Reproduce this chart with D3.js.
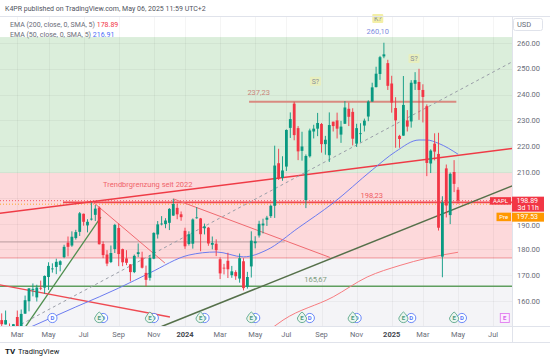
<!DOCTYPE html>
<html>
<head>
<meta charset="utf-8">
<title>AAPL weekly</title>
<script src="https://d3js.org/d3.v7.min.js"></script>
<style>
    body { margin: 0; background: #fff; }
    svg { display: block; font-family: Roboto, "DejaVu Sans", sans-serif; }
</style>
</head>
<body>
<div id="chart"></div>
<script>
// weekly candles: week start, open, high, low, close
var candles = [
    ["2023-01-30", 143.0, 157.4, 141.3, 154.5],
    ["2023-02-06", 152.6, 155.2, 149.2, 151.0],
    ["2023-02-13", 150.9, 156.3, 150.9, 152.6],
    ["2023-02-20", 150.2, 151.3, 146.7, 146.7],
    ["2023-02-27", 147.7, 151.1, 145.4, 151.0],
    ["2023-03-06", 153.8, 156.3, 147.6, 148.5],
    ["2023-03-13", 147.8, 156.7, 147.6, 155.0],
    ["2023-03-20", 155.1, 162.1, 155.0, 160.3],
    ["2023-03-27", 159.9, 165.0, 156.0, 164.9],
    ["2023-04-03", 164.3, 166.8, 161.8, 164.7],
    ["2023-04-10", 161.4, 166.3, 159.8, 165.2],
    ["2023-04-17", 165.1, 167.9, 164.2, 165.0],
    ["2023-04-24", 165.2, 169.9, 162.8, 169.7],
    ["2023-05-01", 169.3, 175.0, 164.3, 173.6],
    ["2023-05-08", 172.5, 174.6, 171.0, 172.6],
    ["2023-05-15", 173.2, 176.4, 170.4, 175.2],
    ["2023-05-22", 174.0, 175.8, 171.5, 175.4],
    ["2023-05-29", 177.0, 181.8, 176.6, 181.0],
    ["2023-06-05", 182.6, 185.0, 177.3, 181.0],
    ["2023-06-12", 181.5, 187.0, 181.0, 184.9],
    ["2023-06-19", 184.4, 187.6, 183.8, 186.7],
    ["2023-06-26", 186.8, 194.5, 185.2, 194.0],
    ["2023-07-03", 193.8, 193.9, 189.2, 190.7],
    ["2023-07-10", 189.3, 191.7, 186.6, 190.7],
    ["2023-07-17", 191.9, 198.2, 191.2, 191.9],
    ["2023-07-24", 193.4, 197.2, 191.0, 195.8],
    ["2023-07-31", 196.2, 196.7, 181.9, 182.0],
    ["2023-08-07", 182.1, 183.1, 176.6, 177.8],
    ["2023-08-14", 178.0, 179.7, 173.5, 174.5],
    ["2023-08-21", 175.1, 181.5, 174.7, 178.6],
    ["2023-08-28", 180.1, 189.9, 178.6, 189.5],
    ["2023-09-04", 188.3, 190.0, 173.5, 178.2],
    ["2023-09-11", 180.1, 180.3, 173.5, 175.0],
    ["2023-09-18", 176.5, 179.7, 173.9, 174.8],
    ["2023-09-25", 174.2, 174.3, 167.6, 171.2],
    ["2023-10-02", 171.2, 178.0, 170.8, 177.5],
    ["2023-10-09", 178.2, 182.3, 177.0, 178.9],
    ["2023-10-16", 176.8, 179.1, 172.6, 172.9],
    ["2023-10-23", 170.9, 173.7, 165.7, 168.2],
    ["2023-10-30", 169.0, 177.8, 167.9, 176.7],
    ["2023-11-06", 176.4, 186.6, 176.2, 186.4],
    ["2023-11-13", 185.8, 191.0, 184.2, 189.7],
    ["2023-11-20", 189.9, 192.9, 189.3, 190.0],
    ["2023-11-27", 189.8, 192.1, 188.2, 191.2],
    ["2023-12-04", 190.3, 196.0, 187.5, 195.7],
    ["2023-12-11", 193.1, 199.6, 193.0, 197.6],
    ["2023-12-18", 196.1, 197.7, 191.7, 193.6],
    ["2023-12-25", 193.6, 194.7, 191.1, 192.5],
    ["2024-01-01", 187.2, 188.4, 180.2, 181.2],
    ["2024-01-08", 182.1, 187.0, 181.5, 185.9],
    ["2024-01-15", 182.2, 192.0, 180.3, 191.6],
    ["2024-01-22", 192.3, 196.4, 191.9, 192.4],
    ["2024-01-29", 192.0, 192.2, 179.3, 185.9],
    ["2024-02-05", 188.2, 190.0, 185.8, 188.9],
    ["2024-02-12", 188.4, 188.7, 181.4, 182.3],
    ["2024-02-19", 181.8, 185.0, 180.0, 182.5],
    ["2024-02-26", 182.2, 183.9, 177.4, 179.7],
    ["2024-03-04", 176.2, 176.9, 168.5, 170.7],
    ["2024-03-11", 172.9, 174.4, 170.3, 172.6],
    ["2024-03-18", 175.6, 178.7, 168.9, 172.3],
    ["2024-03-25", 170.0, 173.6, 169.0, 171.5],
    ["2024-04-01", 171.2, 171.9, 168.2, 169.6],
    ["2024-04-08", 168.7, 178.4, 167.1, 176.6],
    ["2024-04-15", 175.4, 176.6, 164.1, 165.0],
    ["2024-04-22", 165.5, 171.3, 164.8, 169.3],
    ["2024-04-29", 173.4, 187.0, 169.1, 183.4],
    ["2024-05-06", 182.4, 185.1, 180.4, 183.1],
    ["2024-05-13", 185.4, 191.1, 184.6, 189.9],
    ["2024-05-20", 189.3, 191.9, 186.2, 190.0],
    ["2024-05-27", 191.5, 193.0, 189.1, 192.3],
    ["2024-06-03", 192.9, 197.3, 192.2, 196.9],
    ["2024-06-10", 196.9, 220.2, 192.2, 212.5],
    ["2024-06-17", 213.4, 219.0, 206.9, 207.5],
    ["2024-06-24", 207.7, 216.1, 206.6, 210.6],
    ["2024-07-01", 212.1, 226.5, 210.4, 226.3],
    ["2024-07-08", 227.1, 233.1, 223.2, 230.5],
    ["2024-07-15", 236.5, 237.2, 222.3, 224.3],
    ["2024-07-22", 227.0, 227.8, 214.6, 218.0],
    ["2024-07-29", 218.2, 225.6, 214.4, 219.9],
    ["2024-08-05", 199.1, 216.8, 196.0, 216.2],
    ["2024-08-12", 216.1, 226.8, 215.6, 226.1],
    ["2024-08-19", 225.7, 228.3, 223.0, 226.8],
    ["2024-08-26", 226.8, 232.9, 223.9, 229.0],
    ["2024-09-02", 228.6, 229.0, 217.5, 220.8],
    ["2024-09-09", 220.8, 224.0, 216.7, 222.5],
    ["2024-09-16", 216.5, 233.1, 213.9, 228.2],
    ["2024-09-23", 229.5, 229.5, 225.7, 227.8],
    ["2024-09-30", 230.0, 233.0, 223.0, 226.8],
    ["2024-10-07", 224.5, 229.8, 221.3, 227.6],
    ["2024-10-14", 228.7, 237.5, 228.6, 235.0],
    ["2024-10-21", 234.5, 236.9, 227.8, 231.4],
    ["2024-10-28", 233.3, 234.7, 220.3, 222.9],
    ["2024-11-04", 221.0, 228.7, 219.7, 227.0],
    ["2024-11-11", 225.0, 228.9, 221.5, 225.0],
    ["2024-11-18", 228.0, 230.7, 225.7, 229.9],
    ["2024-11-25", 231.5, 237.8, 229.7, 237.3],
    ["2024-12-02", 237.3, 244.6, 237.2, 242.8],
    ["2024-12-09", 242.9, 250.8, 242.8, 248.1],
    ["2024-12-16", 248.0, 255.0, 245.7, 254.5],
    ["2024-12-23", 254.8, 260.1, 254.1, 255.6],
    ["2024-12-30", 252.2, 253.5, 241.8, 243.4],
    ["2025-01-06", 244.3, 247.3, 233.0, 236.9],
    ["2025-01-13", 234.8, 239.0, 219.4, 230.0],
    ["2025-01-20", 224.0, 224.4, 219.4, 222.8],
    ["2025-01-27", 224.1, 247.2, 224.0, 236.0],
    ["2025-02-03", 230.0, 234.0, 225.7, 227.6],
    ["2025-02-10", 229.6, 245.6, 227.2, 244.6],
    ["2025-02-17", 244.2, 248.7, 241.8, 245.6],
    ["2025-02-24", 244.9, 250.0, 230.2, 241.8],
    ["2025-03-03", 241.8, 244.0, 229.2, 239.1],
    ["2025-03-10", 235.5, 236.2, 208.4, 213.5],
    ["2025-03-17", 213.3, 218.8, 209.6, 218.3],
    ["2025-03-24", 221.0, 225.0, 214.5, 217.9],
    ["2025-03-31", 217.0, 225.2, 187.3, 188.4],
    ["2025-04-07", 177.2, 200.6, 169.2, 198.2],
    ["2025-04-14", 211.4, 212.9, 192.4, 197.0],
    ["2025-04-21", 193.3, 209.8, 189.8, 209.3],
    ["2025-04-28", 210.0, 214.6, 202.2, 205.4],
    ["2025-05-05", 203.1, 204.1, 197.7, 198.9]
];

// moving averages
var ema50 = [
    ["2023-02-27", 147.0], ["2023-04-03", 150.3], ["2023-06-19", 157.7], ["2023-07-31", 161.6],
    ["2023-09-04", 165.0], ["2023-10-30", 170.9], ["2024-01-08", 177.8], ["2024-02-26", 179.0],
    ["2024-04-15", 177.1], ["2024-05-27", 179.8], ["2024-07-22", 188.3], ["2024-09-23", 198.0],
    ["2024-12-02", 210.8], ["2025-01-13", 217.9], ["2025-02-24", 222.4], ["2025-03-10", 222.4],
    ["2025-03-31", 221.1], ["2025-05-05", 216.91]
];
var ema200 = [
    ["2024-05-27", 148.0], ["2024-06-25", 152.6], ["2024-09-23", 161.6], ["2024-11-23", 169.3],
    ["2025-01-21", 173.8], ["2025-03-10", 176.6], ["2025-05-05", 178.89]
];

// zones (top price, bottom price)
var greenZone = [262.3, 209.6];
var pinkZone = [209.6, 176.9];
var greyZone = [176.9, 140];

// horizontal levels: start, end, price
var levels = [
    { from: "2023-01-30", to: "2025-08-25", price: 165.67, kind: "green" },
    { from: "2023-01-30", to: "2024-06-28", price: 182.9, kind: "grey" },
    { from: "2023-05-27", to: "2025-08-25", price: 198.23, kind: "red" },
    { from: "2024-04-25", to: "2025-05-02", price: 237.23, kind: "brown" }
];

// trend lines: [date, price] -> [date, price]
var trends = [
    { a: ["2023-01-30", 193.9], b: ["2025-08-25", 219.5], kind: "redThick" },
    { a: ["2023-03-13", 147.6], b: ["2023-08-03", 192.5], kind: "green" },
    { a: ["2023-11-20", 150.1], b: ["2025-08-25", 205.9], kind: "olive" },
    { a: ["2023-07-19", 198.5], b: ["2023-11-26", 174.7], kind: "redThin" },
    { a: ["2023-12-11", 199.6], b: ["2024-09-17", 176.9], kind: "redThin" },
    { a: ["2023-01-30", 166.4], b: ["2023-12-05", 153.8], kind: "redMid" },
    { a: ["2023-02-22", 148.8], b: ["2025-08-25", 254.4], kind: "dashed" }
];

var earnings = ["2023-07-31", "2023-10-30", "2024-01-29", "2024-04-29", "2024-07-29",
    "2024-10-28", "2025-01-27", "2025-04-28"];
var nextEarnings = "2025-07-28";
var dividends = ["2023-05-08", "2023-08-07", "2023-11-06", "2024-02-05", "2024-05-06",
    "2024-08-12", "2024-11-04", "2025-02-10", "2025-05-12"];

var monthTicks = ["2023-03-01", "2023-05-01", "2023-07-01", "2023-09-01", "2023-11-01",
    "2024-01-01", "2024-03-01", "2024-05-01", "2024-07-01", "2024-09-01", "2024-11-01",
    "2025-01-01", "2025-03-01", "2025-05-01", "2025-07-01"];
var priceTicks = [160, 170, 180, 190, 200, 210, 220, 230, 240, 250, 260];

var lastPrice = 198.89, prePrice = 197.53;

// SETUP
var W = 550, H = 360;
var plotRight = 512, plotTop = 17, plotBottom = 326;
var parse = d3.utcParse("%Y-%m-%d");
var weekPx = 3.9;
var x = d3.scaleUtc()
    .domain([parse("2024-01-01"), parse("2025-01-06")])
    .range([185, 185 + 53 * weekPx]);
var y = d3.scaleLinear().domain([160, 260]).range([301, 43]);

var svg = d3.select("#chart").append("svg").attr("width", W).attr("height", H);

svg.append("clipPath").attr("id", "plot")
    .append("rect").attr("x", 0).attr("y", plotTop).attr("width", plotRight).attr("height", plotBottom - plotTop);

var plot = svg.append("g").attr("clip-path", "url(#plot)");

// zones
function zone(z, fill, stroke) {
    plot.append("rect")
        .attr("x", 0).attr("width", plotRight)
        .attr("y", y(z[0])).attr("height", y(z[1]) - y(z[0]))
        .attr("fill", fill);
    if (stroke) {
        plot.append("line").attr("x1", 0).attr("x2", plotRight)
            .attr("y1", y(z[1]) + 0.5).attr("y2", y(z[1]) + 0.5)
            .attr("stroke", stroke).attr("stroke-width", 1);
    }
}
zone(greyZone, "#f4f4f7");
zone(greenZone, "#dbeedb", "#a5d3a5");
zone(pinkZone, "#fdd9db", "#f28b8f");

// grid
plot.selectAll("line.vgrid").data(monthTicks).join("line")
    .attr("class", "vgrid")
    .attr("x1", d => Math.round(x(d3.utcMonday.ceil(parse(d)))) + 0.5)
    .attr("x2", d => Math.round(x(d3.utcMonday.ceil(parse(d)))) + 0.5)
    .attr("y1", plotTop).attr("y2", plotBottom)
    .attr("stroke", "#000").attr("stroke-opacity", 0.04);
plot.selectAll("line.hgrid").data(priceTicks).join("line")
    .attr("class", "hgrid")
    .attr("x1", 0).attr("x2", plotRight)
    .attr("y1", d => Math.round(y(d)) + 0.5).attr("y2", d => Math.round(y(d)) + 0.5)
    .attr("stroke", "#000").attr("stroke-opacity", 0.04);

// levels
var levelStyle = {
    green: { stroke: "#5f9e5f", width: 1.5 },
    grey: { stroke: "#b89a9e", width: 1 },
    red: { stroke: "#f0474f", width: 1.8 },
    brown: { stroke: "#d98a80", width: 1.8 }
};
plot.selectAll("line.level").data(levels).join("line")
    .attr("x1", d => x(parse(d.from))).attr("x2", d => x(parse(d.to)))
    .attr("y1", d => y(d.price)).attr("y2", d => y(d.price))
    .attr("stroke", d => levelStyle[d.kind].stroke)
    .attr("stroke-width", d => levelStyle[d.kind].width);

// price lines (dotted)
plot.append("line").attr("x1", 0).attr("x2", plotRight)
    .attr("y1", y(lastPrice)).attr("y2", y(lastPrice))
    .attr("stroke", "#f23645").attr("stroke-dasharray", "1,2").attr("stroke-opacity", 0.8);
plot.append("line").attr("x1", 0).attr("x2", plotRight)
    .attr("y1", y(prePrice)).attr("y2", y(prePrice))
    .attr("stroke", "#ff9800").attr("stroke-dasharray", "1,2").attr("stroke-opacity", 0.8);

// trend lines
var trendStyle = {
    redThick: { stroke: "#ef3b46", width: 1.5, dash: null },
    green: { stroke: "#4f8f4f", width: 1.3, dash: null },
    olive: { stroke: "#55704a", width: 1.5, dash: null },
    redThin: { stroke: "#f06a70", width: 1, dash: null },
    redMid: { stroke: "#ef4a52", width: 1.3, dash: null },
    dashed: { stroke: "#9a9ea8", width: 1, dash: "3,3" }
};
plot.selectAll("line.trend").data(trends).join("line")
    .attr("x1", d => x(parse(d.a[0]))).attr("y1", d => y(d.a[1]))
    .attr("x2", d => x(parse(d.b[0]))).attr("y2", d => y(d.b[1]))
    .attr("stroke", d => trendStyle[d.kind].stroke)
    .attr("stroke-width", d => trendStyle[d.kind].width)
    .attr("stroke-dasharray", d => trendStyle[d.kind].dash);

// moving averages
var maLine = d3.line().curve(d3.curveMonotoneX)
    .x(d => x(parse(d[0]))).y(d => y(d[1]));
plot.append("path").datum(ema200).attr("d", maLine)
    .attr("fill", "none").attr("stroke", "#f77c80").attr("stroke-width", 1);
plot.append("path").datum(ema50).attr("d", maLine)
    .attr("fill", "none").attr("stroke", "#6c7cf0").attr("stroke-width", 1);

// candles
var up = "#089981", down = "#f23645";
var bodyW = 2.8;
var cg = plot.selectAll("g.candle").data(candles).join("g");
cg.append("line")
    .attr("x1", d => x(parse(d[0]))).attr("x2", d => x(parse(d[0])))
    .attr("y1", d => y(d[2])).attr("y2", d => y(d[3]))
    .attr("stroke", d => d[4] >= d[1] ? up : down).attr("stroke-width", 0.9);
cg.append("rect")
    .attr("x", d => x(parse(d[0])) - bodyW / 2).attr("width", bodyW)
    .attr("y", d => y(Math.max(d[1], d[4])))
    .attr("height", d => Math.max(0.8, Math.abs(y(d[1]) - y(d[4]))))
    .attr("fill", d => d[4] >= d[1] ? up : down);

// annotation texts
var notes = svg.append("g").style("font-size", "7.5px");
notes.append("text").attr("x", x(parse("2023-08-07"))).attr("y", y(204.2))
    .attr("fill", "#f0646a").text("Trendbrgrenzung seit 2022");
notes.append("text").attr("x", x(parse("2024-11-11"))).attr("y", y(200.1))
    .attr("fill", "#ef5a60").text("198,23");
notes.append("text").attr("x", x(parse("2024-04-22"))).attr("y", y(239.8))
    .attr("fill", "#c9857a").text("237,23");
notes.append("text").attr("x", x(parse("2024-08-02"))).attr("y", y(167.2))
    .attr("fill", "#7f9c7f").text("165,67");
notes.append("text").attr("x", x(parse("2024-12-12"))).attr("y", y(263.3))
    .attr("text-anchor", "middle").attr("fill", "#7d8ee0").text("260,10");

function tag(date, price, label, fill) {
    var cx = x(parse(date)), cy = y(price);
    notes.append("rect").attr("x", cx - 5.5).attr("y", cy - 5).attr("width", 11).attr("height", 9)
        .attr("rx", 1).attr("fill", fill);
    notes.append("text").attr("x", cx).attr("y", cy + 2.3).attr("text-anchor", "middle")
        .attr("fill", "#8a8f9a").style("font-size", "7px").text(label);
}
tag("2024-08-22", 245.0, "S?", "#e8efbe");
tag("2025-02-15", 253.8, "S?", "#e8efbe");
tag("2024-12-12", 269.3, "K?", "#f3efa6");

// earnings / dividend markers
var my = 318;
var mk = svg.append("g").style("font-size", "6px").style("font-weight", "bold");
dividends.forEach(function (d) {
    var cx = x(parse(d));
    mk.append("circle").attr("cx", cx).attr("cy", my).attr("r", 4.6)
        .attr("fill", "#fff").attr("stroke", "#5b7cf7").attr("stroke-width", 0.9);
    mk.append("text").attr("x", cx).attr("y", my + 2.1).attr("text-anchor", "middle")
        .attr("fill", "#5b7cf7").text("D");
});
earnings.forEach(function (d) {
    var cx = x(parse(d));
    mk.append("path")
        .attr("d", "M" + (cx - 4.6) + "," + my + " A4.6,4.6 0 1,0 " + (cx + 4.6) + "," + my +
            " L" + (cx + 2) + "," + (my - 4.2) + " L" + cx + "," + (my - 6) + " L" + (cx - 2) + "," + (my - 4.2) + " Z")
        .attr("fill", "#eaf5ef").attr("stroke", "#5fa88c").attr("stroke-width", 0.9);
    mk.append("text").attr("x", cx).attr("y", my + 2.1).attr("text-anchor", "middle")
        .attr("fill", "#4d9a80").text("E");
});
var nx = x(parse(nextEarnings));
mk.append("rect").attr("x", nx - 4.5).attr("y", my - 4.5).attr("width", 9).attr("height", 9)
    .attr("fill", "#fbeefe").attr("stroke", "#e27cf0").attr("stroke-width", 0.9);
mk.append("text").attr("x", nx).attr("y", my + 2.1).attr("text-anchor", "middle")
    .attr("fill", "#d65ee8").text("E");

// frame lines
svg.append("line").attr("x1", 0).attr("x2", W).attr("y1", 16.5).attr("y2", 16.5).attr("stroke", "#e0e3eb");
svg.append("line").attr("x1", plotRight + 0.5).attr("x2", plotRight + 0.5).attr("y1", 16.5).attr("y2", 342)
    .attr("stroke", "#e0e3eb");
svg.append("line").attr("x1", 0).attr("x2", W).attr("y1", plotBottom + 0.5).attr("y2", plotBottom + 0.5)
    .attr("stroke", "#e0e3eb");
svg.append("line").attr("x1", 0).attr("x2", W).attr("y1", 342.5).attr("y2", 342.5).attr("stroke", "#e0e3eb");

// price axis (the label under the price tag is hidden, as on the original)
var ly = y(lastPrice);
var yAxis = svg.append("g").style("font-size", "7.5px");
yAxis.selectAll("text").data(priceTicks.filter(d => Math.abs(y(d) - ly) > 6)).join("text")
    .attr("x", 517).attr("y", d => y(d) + (d === 190 ? 4.6 : 2.6))
    .attr("fill", "#6a6d78").text(d => d.toFixed(2));

// time axis
var fmtMonth = d3.utcFormat("%b");
var xAxis = svg.append("g").style("font-size", "7.5px");
xAxis.selectAll("text").data(monthTicks).join("text")
    .attr("x", d => x(d3.utcMonday.ceil(parse(d))))
    .attr("y", 336.5).attr("text-anchor", "middle")
    .attr("fill", d => parse(d).getUTCMonth() === 0 ? "#444750" : "#6a6d78")
    .style("font-weight", d => parse(d).getUTCMonth() === 0 ? "bold" : null)
    .text(d => parse(d).getUTCMonth() === 0 ? parse(d).getUTCFullYear() : fmtMonth(parse(d)));

// USD box
svg.append("rect").attr("x", 513.5).attr("y", 18.5).attr("width", 29).attr("height", 12).attr("rx", 2)
    .attr("fill", "#fff").attr("stroke", "#e0e3eb");
svg.append("text").attr("x", 517).attr("y", 27).style("font-size", "7.5px").attr("fill", "#6a6d78").text("USD");

// last price and pre-market tags
var py = ly + 16;
svg.append("rect").attr("x", 490).attr("y", ly - 3.5).attr("width", 21).attr("height", 7.5).attr("fill", "#f23645");
svg.append("rect").attr("x", 512).attr("y", ly - 4).attr("width", 32).attr("height", 15).attr("fill", "#f23645");
svg.append("rect").attr("x", 496.5).attr("y", py - 4).attr("width", 14.5).attr("height", 8.5).attr("fill", "#ff9800");
svg.append("rect").attr("x", 512).attr("y", py - 4).attr("width", 32).attr("height", 9).attr("fill", "#ff9800");
svg.append("text").attr("x", 500.5).attr("y", ly + 2.3).attr("text-anchor", "middle")
    .style("font-size", "6px").attr("fill", "#fff").text("AAPL");
svg.append("text").attr("x", 516.5).attr("y", ly + 2.2).style("font-size", "7px").attr("fill", "#fff").text(lastPrice.toFixed(2));
svg.append("text").attr("x", 517.5).attr("y", ly + 9.6).style("font-size", "7px").attr("fill", "#fff").text("3d 11h");
svg.append("text").attr("x", 503.7).attr("y", py + 2.2).attr("text-anchor", "middle")
    .style("font-size", "6px").attr("fill", "#fff").text("Pre");
svg.append("text").attr("x", 516.5).attr("y", py + 2.4).style("font-size", "7px").attr("fill", "#fff").text(prePrice.toFixed(2));

// header and legend
svg.append("text").attr("x", 5).attr("y", 11).style("font-size", "7px").attr("fill", "#50535e")
    .text("K4PR published on TradingView.com, May 06, 2025 11:59 UTC+2");
var lg = svg.append("g").style("font-size", "7px");
var l1 = lg.append("text").attr("x", 10).attr("y", 27).attr("fill", "#6a6d78");
l1.append("tspan").text("EMA (200, close, 0, SMA, 5) ");
l1.append("tspan").attr("fill", "#f23645").text("178.89");
var l2 = lg.append("text").attr("x", 10).attr("y", 36.5).attr("fill", "#6a6d78");
l2.append("tspan").text("EMA (50, close, 0, SMA, 5) ");
l2.append("tspan").attr("fill", "#4a6cf7").text("216.91");

// footer
svg.append("text").attr("x", 5).attr("y", 354).style("font-size", "8px").style("font-weight", "bold")
    .attr("fill", "#131722").text("TV");
svg.append("text").attr("x", 18).attr("y", 354).style("font-size", "7.5px").attr("fill", "#131722")
    .text("TradingView");
</script>
</body>
</html>
